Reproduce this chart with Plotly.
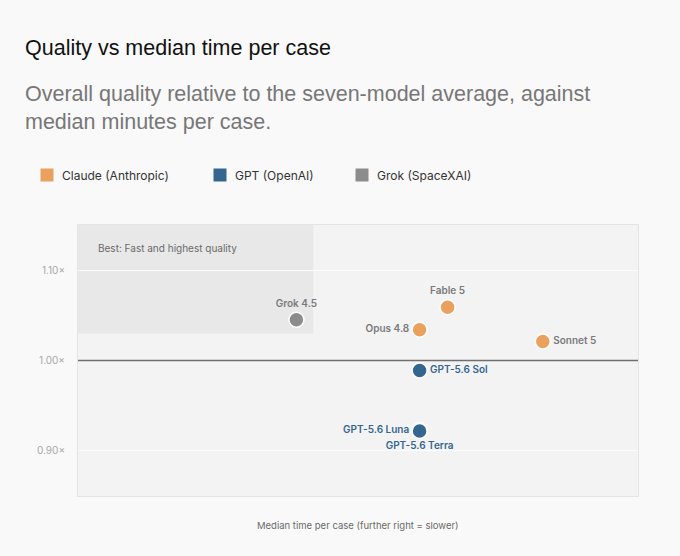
import plotly.graph_objects as go

# median minutes per case (x) and quality relative to seven-model average (y)
claude_names = ["Opus 4.8", "Fable 5", "Sonnet 5"]
claude_time = [6.1, 6.6, 8.3]
claude_quality = [1.034, 1.059, 1.021]
claude_pos = ["middle left", "top center", "middle right"]

gpt_names = ["GPT-5.6 Sol", "GPT-5.6 Luna", "GPT-5.6 Terra"]
gpt_time = [6.1, 6.1, 6.1]
gpt_quality = [0.989, 0.923, 0.922]
gpt_pos = ["middle right", "middle left", "bottom center"]

grok_names = ["Grok 4.5"]
grok_time = [3.9]
grok_quality = [1.045]
grok_pos = ["top center"]

legend_labels = ["Claude (Anthropic)", "GPT (OpenAI)", "Grok (SpaceXAI)"]
legend_px = [47, 220, 362]   # swatch centres, pixels from left

y_ticks = [0.90, 1.00, 1.10]
y_tick_labels = ["0.90×", "1.00×", "1.10×"]

ORANGE = "#E9A15D"
BLUE = "#35668F"
GREY = "#8C8C8C"
FONT = "Inter, Roboto, sans-serif"
HEAD = "Liberation Sans, Arial, sans-serif"

# plot area in pixels: x 78..638, y 225..496
def px_x(p):
    return (p - 78) / 560

def px_y(p):
    return (496 - p) / 271

fig = go.Figure()

# "best" quadrant
fig.add_shape(type="rect", xref="x", yref="y", x0=0, x1=4.2, y0=1.03, y1=1.15,
              fillcolor="#e8e8e8", line_width=0, layer="below")
fig.add_shape(type="line", xref="paper", yref="y", x0=0, x1=1, y0=1.0, y1=1.0,
              line=dict(color="#6f6f6f", width=1.3))

series = [
    (claude_names, claude_time, claude_quality, claude_pos, ORANGE, "#7a7a7a"),
    (gpt_names, gpt_time, gpt_quality, gpt_pos, BLUE, BLUE),
    (grok_names, grok_time, grok_quality, grok_pos, GREY, "#7a7a7a"),
]

for labels, xs, ys, pos, color, text_color in series:
    fig.add_trace(go.Scatter(
        x=xs, y=ys, text=labels, mode="markers+text", textposition=pos,
        marker=dict(size=15, color=color, line=dict(color="white", width=1.5)),
        textfont=dict(family=FONT, size=10, color=text_color, weight=600),
        showlegend=False, hoverinfo="text",
    ))

# legend drawn by hand: squares + labels
for label, cx, color in zip(legend_labels, legend_px, [ORANGE, BLUE, GREY]):
    fig.add_shape(type="rect", xref="paper", yref="paper",
                  x0=px_x(cx - 6.5), x1=px_x(cx + 6.5), y0=px_y(181.5), y1=px_y(168.5),
                  fillcolor=color, line_width=0)
    fig.add_annotation(xref="paper", yref="paper", x=px_x(cx + 13), y=px_y(175), text=label,
                       showarrow=False, xanchor="left", yanchor="middle",
                       font=dict(family=FONT, size=12, color="#333333"))

fig.add_annotation(xref="x", yref="y", x=0.32, y=1.125, text="Best: Fast and highest quality",
                   showarrow=False, xanchor="left", yanchor="middle",
                   font=dict(family=FONT, size=10, color="#6a6a6a"))

fig.add_annotation(xref="paper", yref="paper", x=px_x(23), y=px_y(48), text="Quality vs median time per case",
                   showarrow=False, xanchor="left", yanchor="middle",
                   font=dict(family=HEAD, size=21.5, color="#111111"))
fig.add_annotation(xref="paper", yref="paper", x=px_x(23), y=px_y(107.5),
                   text="Overall quality relative to the seven-model average, against<br>median minutes per case.",
                   showarrow=False, xanchor="left", yanchor="middle", align="left",
                   font=dict(family=HEAD, size=21.5, color="#777777"))
fig.add_annotation(xref="paper", yref="paper", x=0.5, y=px_y(525),
                   text="Median time per case (further right = slower)",
                   showarrow=False, xanchor="center", yanchor="middle",
                   font=dict(family=FONT, size=9.5, color="#6a6a6a"))

fig.update_layout(
    width=680, height=556,
    margin=dict(l=78, r=42, t=225, b=60),
    paper_bgcolor="#f9f9f9", plot_bgcolor="#f3f3f3",
    font=dict(family=FONT, color="#333333"),
    showlegend=False,
)
fig.update_xaxes(range=[0, 10], showticklabels=False, showgrid=False, zeroline=False,
                 showline=True, mirror=True, linecolor="#e4e4e4", linewidth=1)
fig.update_yaxes(range=[0.85, 1.15], tickvals=y_ticks, ticktext=y_tick_labels,
                 showgrid=True, gridcolor="#fbfbfb", gridwidth=1, zeroline=False,
                 showline=True, mirror=True, linecolor="#e4e4e4", linewidth=1,
                 ticks="outside", ticklen=10, tickcolor="rgba(0,0,0,0)",
                 tickfont=dict(family=FONT, size=10, color="#a8a8a8"))

fig.write_html("out.html", config={"displayModeBar": False},
               post_script="document.body.style.margin='0';document.body.style.background='#f9f9f9';")
